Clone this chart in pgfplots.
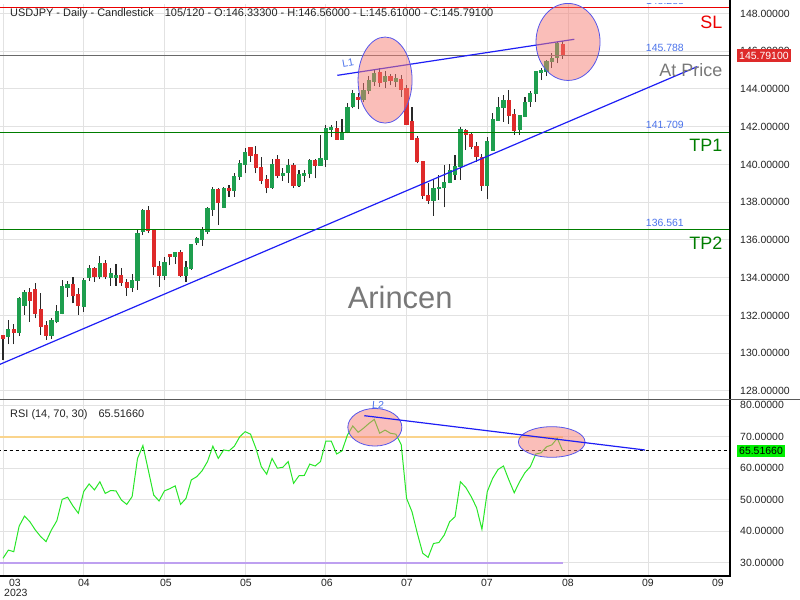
\documentclass[border=0pt]{standalone}
\usepackage{fontspec}
\setmainfont{Liberation Sans}
\usepackage{pgfplots}
\usepackage{pgfplotstable}
\pgfplotsset{compat=1.18}

\definecolor{upgreen}{RGB}{30,158,78}
\definecolor{dnred}{RGB}{222,42,42}
\definecolor{wick}{RGB}{40,40,40}
\definecolor{gridc}{RGB}{226,226,226}
\definecolor{tline}{RGB}{30,30,245}
\definecolor{elfill}{RGB}{245,125,115}
\definecolor{elline}{RGB}{85,85,235}
\definecolor{lblue}{RGB}{75,115,235}
\definecolor{tpgreen}{RGB}{0,125,0}
\definecolor{slred}{RGB}{235,0,0}
\definecolor{atgray}{RGB}{105,105,105}
\definecolor{bigtxt}{RGB}{120,120,120}
\definecolor{rsigreen}{RGB}{40,230,40}
\definecolor{oline}{RGB}{250,212,140}
\definecolor{ofill}{RGB}{250,185,110}
\definecolor{purp}{RGB}{190,160,240}
\definecolor{txt}{RGB}{35,35,35}
\definecolor{boxgreen}{RGB}{0,240,0}

\newcommand\lab{\fontsize{10.5}{12}\selectfont}
\newcommand\hdr{\fontsize{11}{13}\selectfont}

% daily candles: bar index, open, high, low, close
\pgfplotstableread{
b o h l c
0 130.93 130.95 129.64 130.77
1 130.88 131.76 130.47 131.23
2 131.23 131.53 130.47 131.09
3 131.09 133.00 130.93 132.91
4 132.55 133.35 132.03 133.21
5 133.21 133.44 131.67 132.78
6 133.35 133.74 131.85 132.11
7 132.33 133.21 130.98 131.44
8 131.44 131.71 130.70 130.97
9 130.97 131.88 130.74 131.71
10 131.71 132.55 131.58 132.19
11 132.11 133.88 132.06 133.52
12 133.47 133.82 132.99 133.61
13 133.61 134.05 132.64 133.09
14 133.09 133.44 132.03 132.52
15 132.50 133.97 132.20 133.83
16 134.00 134.67 133.83 134.46
17 134.46 134.58 133.79 134.05
18 134.05 135.15 133.92 134.73
19 134.73 134.94 133.92 134.05
20 134.02 134.50 133.56 134.20
21 134.00 134.73 133.56 134.11
22 134.09 134.50 133.56 133.74
23 133.74 133.93 133.05 133.47
24 133.47 134.20 133.23 133.84
25 133.84 136.53 133.35 136.31
26 136.44 137.62 136.26 137.53
27 137.53 137.80 136.36 136.49
28 136.49 136.56 134.12 134.58
29 134.58 134.90 133.52 134.14
30 134.14 135.11 133.88 134.82
31 135.20 135.26 134.67 135.11
32 135.11 135.38 134.73 135.32
33 135.32 135.47 134.05 134.14
34 134.14 134.90 133.79 134.53
35 134.50 135.79 134.41 135.73
36 135.85 136.14 135.73 136.05
37 136.05 136.67 135.68 136.47
38 136.44 137.76 136.31 137.64
39 137.64 138.79 137.27 138.65
40 138.65 138.74 136.79 137.97
41 137.71 138.82 137.68 138.70
42 138.70 138.91 138.29 138.65
43 138.65 139.56 138.29 139.35
44 139.35 140.24 139.18 140.02
45 140.02 140.85 139.53 140.64
46 140.91 140.94 140.15 140.50
47 140.50 140.98 139.53 139.83
48 139.83 140.38 138.96 139.18
49 139.18 139.44 138.47 138.77
50 138.77 140.27 138.72 139.97
51 140.24 140.50 139.26 139.44
52 139.44 139.83 139.14 139.53
53 139.56 140.29 139.03 139.92
54 139.92 140.06 138.74 138.91
55 138.91 139.71 138.82 139.44
56 139.40 139.71 139.09 139.49
57 139.53 140.27 139.26 140.18
58 140.18 140.27 139.26 139.97
59 139.97 141.56 139.92 140.29
60 140.29 142.09 139.88 141.88
61 141.88 142.09 141.47 141.95
62 141.91 142.30 141.30 141.35
63 141.35 142.41 141.30 141.68
64 141.68 143.24 141.65 143.03
65 143.06 143.94 142.97 143.77
66 143.56 143.77 142.92 143.47
67 143.47 144.30 143.29 143.91
68 143.91 144.68 143.73 144.42
69 144.42 145.04 144.17 144.83
70 144.86 145.09 144.12 144.33
71 144.42 144.97 144.03 144.65
72 144.65 144.79 144.19 144.44
73 144.42 144.79 144.12 144.53
74 144.51 144.74 143.59 144.00
75 144.00 144.21 142.09 142.14
76 142.26 143.03 141.30 141.35
77 141.35 141.51 140.06 140.15
78 140.15 140.20 138.17 138.34
79 138.34 139.00 137.91 138.08
80 138.08 139.21 137.29 138.74
81 138.72 139.44 138.12 138.77
82 138.77 139.97 137.73 139.03
83 139.03 140.02 139.00 139.67
84 139.49 140.50 139.18 139.88
85 139.88 141.97 139.18 141.82
86 141.77 141.86 140.76 141.60
87 141.56 141.74 140.80 140.94
88 140.94 141.20 140.15 140.41
89 140.38 140.55 138.61 138.91
90 138.91 141.47 138.16 141.21
91 140.76 142.74 140.73 142.35
92 142.35 143.59 142.32 143.01
93 143.01 143.68 142.27 143.36
94 143.36 143.94 142.14 142.62
95 142.62 142.92 141.56 141.79
96 141.88 142.62 141.56 142.57
97 142.57 143.59 142.50 143.27
98 143.32 143.91 143.06 143.73
99 143.77 144.97 143.32 144.91
100 144.88 145.09 144.47 144.97
101 144.91 145.53 144.68 145.44
102 145.48 145.92 145.12 145.62
103 145.65 146.50 145.36 146.38
104 146.333 146.56 145.61 145.791
}\candles

% RSI(14)
\pgfplotstableread{
b r
0 31.4
1 34.0
2 33.5
3 41.6
4 44.8
5 43.0
6 40.4
7 38.3
8 36.7
9 40.4
10 43.3
11 50.1
12 50.8
13 48.0
14 45.7
15 52.6
16 55.0
17 53.1
18 55.7
19 52.0
20 52.9
21 52.8
22 49.9
23 48.5
24 51.0
25 63.1
26 67.2
27 59.4
28 51.5
29 49.6
30 52.8
31 53.5
32 54.4
33 48.5
34 50.4
35 56.3
36 57.3
37 59.2
38 62.1
39 67.0
40 63.1
41 65.8
42 65.5
43 67.0
44 70.0
45 71.6
46 70.8
47 66.3
48 60.5
49 58.1
50 63.1
51 60.0
52 60.3
53 62.1
54 55.2
55 57.6
56 57.7
57 61.3
58 60.7
59 62.1
60 68.6
61 68.6
62 64.5
63 65.5
64 70.5
65 73.4
66 71.4
67 72.7
68 74.2
69 75.5
70 71.1
71 72.1
72 71.1
73 70.8
74 67.5
75 50.4
76 46.2
77 39.3
78 33.0
79 31.7
80 36.1
81 36.4
82 38.8
83 43.0
84 44.6
85 55.7
86 53.9
87 51.0
88 47.5
89 40.6
90 52.6
91 56.8
92 59.6
93 60.7
94 56.3
95 52.2
96 55.7
97 58.6
98 60.5
99 64.5
100 64.9
101 66.8
102 67.4
103 69.5
104 65.5166
}\rsi

\pgfplotsset{panel/.style={
    scale only axis, width=730bp,
    xmin=-0.5575, xmax=135.1,
    axis line style={draw=none},
    major tick length=0pt,
    xtick={0,15,...,135}, xticklabels={},
    yticklabel pos=right,
    grid=major, grid style={gridc, line width=1bp},
    yticklabel style={anchor=west, xshift=10bp, inner sep=0pt, font=\lab, text=txt,
        /pgf/number format/fixed, /pgf/number format/fixed zerofill,
        /pgf/number format/precision=5, /pgf/number format/1000 sep={},
        /pgf/number format/assume math mode=true},
}}

\begin{document}
\begin{tikzpicture}
\useasboundingbox (0,0) rectangle (800bp,600bp);

% ---------- price panel ----------
\begin{axis}[panel, at={(0,200bp)}, anchor=south west, height=396bp,
    ymin=127.52, ymax=148.50, ytick={128,130,...,148}]
% wicks
\addplot[draw=none, mark=none, error bars/.cd, y dir=plus, y explicit,
    error mark=none, error bar style={draw=wick, line width=1.1bp}]
    table[x=b, y=l, y error plus expr={\thisrow{h}-\thisrow{l}}] {\candles};
% bodies up
\addplot[draw=none, mark=none, restrict expr to domain={\thisrow{c}-\thisrow{o}}{0:100},
    error bars/.cd, y dir=both, y explicit, error mark=none,
    error bar style={draw=upgreen, line width=4.2bp}]
    table[x=b, y expr={(\thisrow{o}+\thisrow{c})/2},
          y error expr={abs(\thisrow{c}-\thisrow{o})/2+0.035}] {\candles};
% bodies down
\addplot[draw=none, mark=none, restrict expr to domain={\thisrow{c}-\thisrow{o}}{-100:0},
    error bars/.cd, y dir=both, y explicit, error mark=none,
    error bar style={draw=dnred, line width=4.2bp}]
    table[x=b, y expr={(\thisrow{o}+\thisrow{c})/2},
          y error expr={abs(\thisrow{c}-\thisrow{o})/2+0.035}] {\candles};

% levels
\addplot[slred, line width=1bp] coordinates {(-1,148.29) (136,148.29)};
\addplot[atgray, line width=1bp] coordinates {(-1,145.788) (136,145.788)};
\addplot[tpgreen, line width=1bp] coordinates {(-1,141.709) (136,141.709)};
\addplot[tpgreen, line width=1bp] coordinates {(-1,136.561) (136,136.561)};

% trend lines
\addplot[tline, line width=1.2bp] coordinates {(-0.56,129.41) (129.0,145.18)};
\addplot[tline, line width=1.2bp] coordinates {(62.13,144.72) (106.17,146.63)};

% highlight ellipses
\draw[elline, fill=elfill, fill opacity=0.5, line width=0.8bp]
    (axis cs:71.0,144.47) ellipse [x radius=5.02, y radius=2.28];
\draw[elline, fill=elfill, fill opacity=0.5, line width=0.8bp]
    (axis cs:105.0,146.49) ellipse [x radius=5.95, y radius=2.04];

\node[lblue, font=\lab, anchor=south, inner sep=1.5bp, yshift=1.5bp] at (axis cs:123,145.788) {145.788};
\node[lblue, font=\lab, anchor=south, inner sep=1.5bp, yshift=1.5bp] at (axis cs:123,141.709) {141.709};
\node[lblue, font=\lab, anchor=south, inner sep=1.5bp, yshift=1.5bp] at (axis cs:123,136.561) {136.561};
\node[lblue, font=\lab, rotate=10] at (axis cs:64.1,145.37) {L1};

\node[slred, font=\fontsize{18}{20}\selectfont, anchor=east, inner sep=0] at (axis cs:133.7,147.55) {SL};
\node[bigtxt, font=\fontsize{18}{20}\selectfont, anchor=east, inner sep=0] at (axis cs:133.7,145.0) {At Price};
\node[tpgreen, font=\fontsize{18}{20}\selectfont, anchor=east, inner sep=0] at (axis cs:133.7,141.0) {TP1};
\node[tpgreen, font=\fontsize{18}{20}\selectfont, anchor=east, inner sep=0] at (axis cs:133.7,135.82) {TP2};
\node[bigtxt, font=\fontsize{31}{34}\selectfont] at (axis cs:73.8,132.93) {Arincen};
\end{axis}

% ---------- RSI panel ----------
\begin{axis}[panel, at={(0,24bp)}, anchor=south west, height=176bp,
    ymin=25.78, ymax=81.65, ytick={30,40,...,80}]
\addplot[oline, line width=2bp] coordinates {(-0.56,70) (104,70)};
\addplot[purp, line width=2bp] coordinates {(-0.56,30) (104,30)};
\addplot[ofill, draw=none] coordinates {(44,70) (45,71.6) (46,70.8) (46.18,70)} -- cycle;
\addplot[ofill, draw=none] coordinates {(63.9,70) (64,70.5) (65,73.4) (66,71.4) (67,72.7)
    (68,74.2) (69,75.5) (70,71.1) (71,72.1) (72,71.1) (73,70.8) (73.24,70)} -- cycle;
\addplot[black, line width=1bp, dash pattern=on 3bp off 3bp] coordinates {(-1,65.5166) (136,65.5166)};
\addplot[rsigreen, line width=1bp] table[x=b, y=r] {\rsi};
\draw[elline, fill=elfill, fill opacity=0.5, line width=0.8bp]
    (axis cs:69.1,73.0) ellipse [x radius=5.02, y radius=5.97];
\draw[elline, fill=elfill, fill opacity=0.5, line width=0.8bp]
    (axis cs:101.97,68.32) ellipse [x radius=6.19, y radius=4.86];
\addplot[tline, line width=1.2bp] coordinates {(67.14,76.67) (119.3,65.78)};
\node[lblue, font=\lab, rotate=-5] at (axis cs:69.7,80.1) {L2};
\end{axis}

% ---------- frame, labels (pixel coordinates, origin top left) ----------
\begin{scope}[x=1bp, y=-1bp, yshift=600bp]
\draw[black, line width=1.3bp] (730,0) -- (730,576);
\draw[black, line width=1.3bp] (0,576) -- (730.65,576);
\draw[black!65, line width=1bp] (0,400) -- (800,400);
\begin{scope}
\clip (0,4) rectangle (730,400);
\node[lblue, font=\lab, anchor=south, inner sep=1.5bp] at (665,6.5) {148.288};
\end{scope}
\node[font=\hdr, text=txt, anchor=west, inner sep=0] at (10,14)
    {USDJPY - Daily - Candlestick\hspace{11bp}105/120 - O:146.33300 - H:146.56000 - L:145.61000 - C:145.79100};
\node[font=\hdr, text=txt, anchor=west, inner sep=0] at (10,415)
    {RSI (14, 70, 30)\hspace{11bp}65.51660};
\node[fill=dnred, text=white, font=\lab, inner xsep=2bp, inner ysep=2.5bp, anchor=west] at (737,55.5) {145.79100};
\node[fill=boxgreen, text=black, font=\lab, inner xsep=2bp, inner ysep=2bp, anchor=west] at (737,451) {65.51660};
\foreach \x/\t in {15/03, 84/04, 166/05, 246/05, 327/06, 407/07, 487/07, 568/08, 648/09, 718/09}
    \node[font=\lab, text=txt, inner sep=0] at (\x,583) {\t};
\node[font=\lab, text=txt, anchor=west, inner sep=0] at (4,593) {2023};
\end{scope}
\end{tikzpicture}
\end{document}
